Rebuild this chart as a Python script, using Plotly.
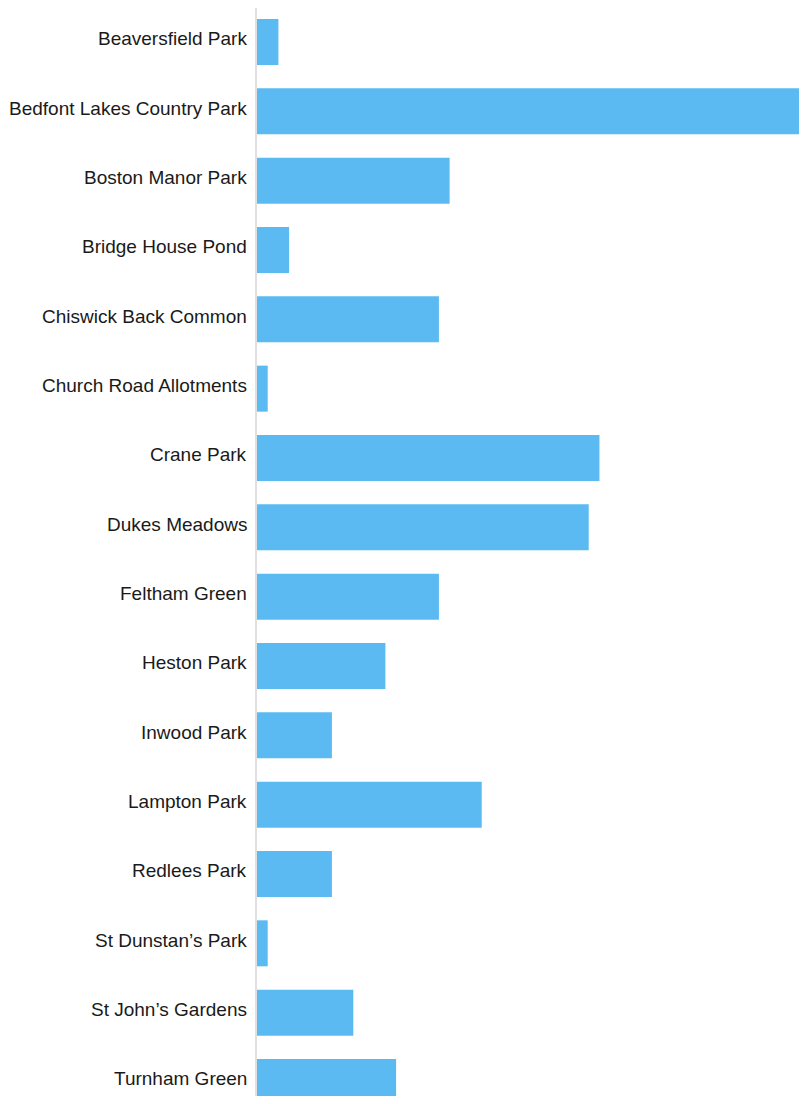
import plotly.graph_objects as go

parks = [
    "Beaversfield Park",
    "Bedfont Lakes Country Park",
    "Boston Manor Park",
    "Bridge House Pond",
    "Chiswick Back Common",
    "Church Road Allotments",
    "Crane Park",
    "Dukes Meadows",
    "Feltham Green",
    "Heston Park",
    "Inwood Park",
    "Lampton Park",
    "Redlees Park",
    "St Dunstan\u2019s Park",
    "St John\u2019s Gardens",
    "Turnham Green",
]
counts = [2, 52, 18, 3, 17, 1, 32, 31, 17, 12, 7, 21, 7, 1, 9, 13]

x_max = 50.65
y_range = [15.202, -0.490]

fig = go.Figure(
    go.Bar(
        x=counts,
        y=parks,
        orientation="h",
        marker=dict(color="#5BBAF2", line=dict(width=0)),
        hoverinfo="x+y",
    )
)

for name in parks:
    fig.add_annotation(
        x=0,
        xref="paper",
        y=name,
        yref="y",
        text=name,
        showarrow=False,
        xanchor="right",
        yanchor="middle",
        xshift=-8,
        yshift=3,
        font=dict(family="Liberation Sans, Arial, sans-serif", size=19, color="#1a1a1a"),
    )

fig.update_layout(
    width=791,
    height=1088,
    margin=dict(l=249, r=0, t=0, b=0, pad=0),
    paper_bgcolor="white",
    plot_bgcolor="white",
    bargap=0.3365,
    showlegend=False,
    font=dict(family="Liberation Sans, Arial, sans-serif", size=19, color="#1a1a1a"),
)
fig.update_xaxes(
    range=[0, x_max],
    showgrid=False,
    zeroline=False,
    showticklabels=False,
    showline=False,
    ticks="",
)
fig.update_yaxes(
    type="category",
    categoryorder="array",
    categoryarray=parks,
    range=y_range,
    showgrid=False,
    zeroline=False,
    showline=True,
    linecolor="#E0E0E0",
    linewidth=2,
    ticks="",
    showticklabels=False,
)

fig.write_html("out.html")
